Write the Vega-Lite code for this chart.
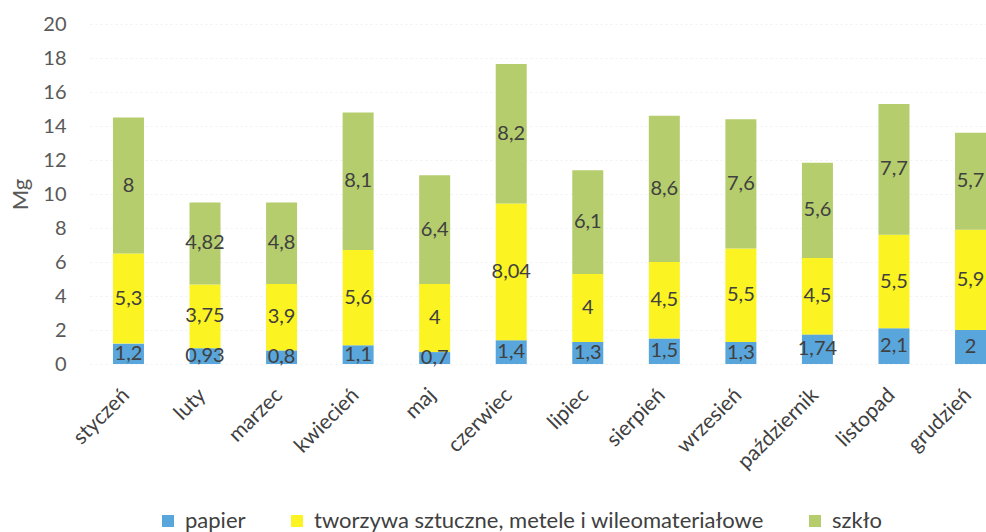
{
  "$schema": "https://vega.github.io/schema/vega-lite/v6.json",
  "width": 919,
  "height": 340,
  "autosize": "none",
  "padding": {"left": 90, "top": 24, "right": 0, "bottom": 168},
  "background": "white",
  "config": {"view": {"stroke": null}, "font": "Lato"},
  "data": {"values": [
    {"month": "styczeń", "series": "papier", "o": 1, "value": 1.2, "label": "1,2"},
    {"month": "styczeń", "series": "tworzywa sztuczne, metele i wileomateriałowe", "o": 2, "value": 5.3, "label": "5,3"},
    {"month": "styczeń", "series": "szkło", "o": 3, "value": 8, "label": "8"},
    {"month": "luty", "series": "papier", "o": 1, "value": 0.93, "label": "0,93"},
    {"month": "luty", "series": "tworzywa sztuczne, metele i wileomateriałowe", "o": 2, "value": 3.75, "label": "3,75"},
    {"month": "luty", "series": "szkło", "o": 3, "value": 4.82, "label": "4,82"},
    {"month": "marzec", "series": "papier", "o": 1, "value": 0.8, "label": "0,8"},
    {"month": "marzec", "series": "tworzywa sztuczne, metele i wileomateriałowe", "o": 2, "value": 3.9, "label": "3,9"},
    {"month": "marzec", "series": "szkło", "o": 3, "value": 4.8, "label": "4,8"},
    {"month": "kwiecień", "series": "papier", "o": 1, "value": 1.1, "label": "1,1"},
    {"month": "kwiecień", "series": "tworzywa sztuczne, metele i wileomateriałowe", "o": 2, "value": 5.6, "label": "5,6"},
    {"month": "kwiecień", "series": "szkło", "o": 3, "value": 8.1, "label": "8,1"},
    {"month": "maj", "series": "papier", "o": 1, "value": 0.7, "label": "0,7"},
    {"month": "maj", "series": "tworzywa sztuczne, metele i wileomateriałowe", "o": 2, "value": 4, "label": "4"},
    {"month": "maj", "series": "szkło", "o": 3, "value": 6.4, "label": "6,4"},
    {"month": "czerwiec", "series": "papier", "o": 1, "value": 1.4, "label": "1,4"},
    {"month": "czerwiec", "series": "tworzywa sztuczne, metele i wileomateriałowe", "o": 2, "value": 8.04, "label": "8,04"},
    {"month": "czerwiec", "series": "szkło", "o": 3, "value": 8.2, "label": "8,2"},
    {"month": "lipiec", "series": "papier", "o": 1, "value": 1.3, "label": "1,3"},
    {"month": "lipiec", "series": "tworzywa sztuczne, metele i wileomateriałowe", "o": 2, "value": 4, "label": "4"},
    {"month": "lipiec", "series": "szkło", "o": 3, "value": 6.1, "label": "6,1"},
    {"month": "sierpień", "series": "papier", "o": 1, "value": 1.5, "label": "1,5"},
    {"month": "sierpień", "series": "tworzywa sztuczne, metele i wileomateriałowe", "o": 2, "value": 4.5, "label": "4,5"},
    {"month": "sierpień", "series": "szkło", "o": 3, "value": 8.6, "label": "8,6"},
    {"month": "wrzesień", "series": "papier", "o": 1, "value": 1.3, "label": "1,3"},
    {"month": "wrzesień", "series": "tworzywa sztuczne, metele i wileomateriałowe", "o": 2, "value": 5.5, "label": "5,5"},
    {"month": "wrzesień", "series": "szkło", "o": 3, "value": 7.6, "label": "7,6"},
    {"month": "październik", "series": "papier", "o": 1, "value": 1.74, "label": "1,74"},
    {"month": "październik", "series": "tworzywa sztuczne, metele i wileomateriałowe", "o": 2, "value": 4.5, "label": "4,5"},
    {"month": "październik", "series": "szkło", "o": 3, "value": 5.6, "label": "5,6"},
    {"month": "listopad", "series": "papier", "o": 1, "value": 2.1, "label": "2,1"},
    {"month": "listopad", "series": "tworzywa sztuczne, metele i wileomateriałowe", "o": 2, "value": 5.5, "label": "5,5"},
    {"month": "listopad", "series": "szkło", "o": 3, "value": 7.7, "label": "7,7"},
    {"month": "grudzień", "series": "papier", "o": 1, "value": 2, "label": "2"},
    {"month": "grudzień", "series": "tworzywa sztuczne, metele i wileomateriałowe", "o": 2, "value": 5.9, "label": "5,9"},
    {"month": "grudzień", "series": "szkło", "o": 3, "value": 5.7, "label": "5,7"}
  ]},
  "encoding": {
    "x": {
      "field": "month", "type": "nominal", "sort": null,
      "scale": {"paddingInner": 0.595, "paddingOuter": 0.3},
      "axis": {
        "title": null, "domain": false, "ticks": false, "grid": false,
        "labelAngle": -45, "labelAlign": "right", "labelBaseline": "top",
        "labelFontSize": 21, "labelColor": "#404040", "labelPadding": 20, "labelOffset": -10
      }
    },
    "y": {
      "field": "value", "type": "quantitative", "stack": "zero",
      "scale": {"domain": [0, 20], "nice": false},
      "axis": {
        "title": "Mg", "titleFontSize": 22, "titleColor": "#595959", "titleFontWeight": "normal", "titlePadding": 10,
        "values": [0, 2, 4, 6, 8, 10, 12, 14, 16, 18, 20],
        "domain": false, "ticks": false, "labelPadding": 24,
        "labelFontSize": 20, "labelColor": "#595959",
        "grid": true, "gridColor": "#f0f0f0", "gridDash": [2, 3]
      }
    },
    "order": {"field": "o", "type": "quantitative"}
  },
  "layer": [
    {
      "mark": {"type": "bar"},
      "encoding": {
        "color": {
          "field": "series", "type": "nominal",
          "scale": {
            "domain": ["papier", "tworzywa sztuczne, metele i wileomateriałowe", "szkło"],
            "range": ["#58a6dc", "#fbf322", "#b5cd6d"]
          },
          "legend": {
            "title": null, "orient": "none", "direction": "horizontal",
            "legendX": 67, "legendY": 486,
            "symbolType": "square", "symbolSize": 144, "symbolStrokeWidth": 0,
            "labelFontSize": 22, "labelColor": "#404040", "labelOffset": 6,
            "columnPadding": 40, "labelLimit": 700
          }
        }
      }
    },
    {
      "mark": {"type": "text", "fontSize": 20, "color": "#404040"},
      "encoding": {
        "y": {"field": "value", "type": "quantitative", "stack": "zero", "bandPosition": 0.5},
        "detail": {"field": "series"},
        "text": {"field": "label"}
      }
    }
  ]
}
